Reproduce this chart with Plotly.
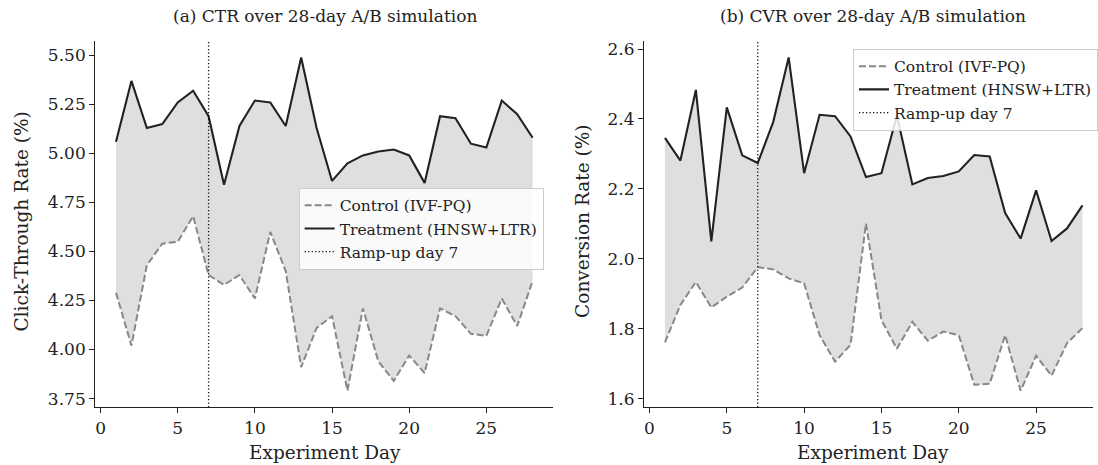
import plotly.graph_objects as go

days = list(range(1, 29))

ctr_control = [4.29, 4.02, 4.43, 4.54, 4.55, 4.68, 4.38, 4.33, 4.38, 4.26,
               4.60, 4.40, 3.91, 4.11, 4.17, 3.79, 4.21, 3.94, 3.84, 3.97,
               3.88, 4.21, 4.17, 4.08, 4.07, 4.26, 4.12, 4.35]
ctr_treatment = [5.06, 5.37, 5.13, 5.15, 5.26, 5.32, 5.19, 4.84, 5.14, 5.27,
                 5.26, 5.14, 5.49, 5.13, 4.86, 4.95, 4.99, 5.01, 5.02, 4.99,
                 4.85, 5.19, 5.18, 5.05, 5.03, 5.27, 5.20, 5.08]

cvr_control = [1.761, 1.868, 1.934, 1.861, 1.892, 1.918, 1.976, 1.970, 1.944, 1.930,
               1.782, 1.706, 1.754, 2.101, 1.825, 1.743, 1.820, 1.766, 1.792, 1.782,
               1.640, 1.643, 1.782, 1.623, 1.723, 1.666, 1.759, 1.802]
cvr_treatment = [2.346, 2.281, 2.483, 2.050, 2.433, 2.296, 2.274, 2.391, 2.576, 2.245,
                 2.412, 2.408, 2.350, 2.234, 2.245, 2.410, 2.213, 2.231, 2.237, 2.250,
                 2.297, 2.293, 2.131, 2.058, 2.196, 2.051, 2.087, 2.153]

RAMP_DAY = 7
titles = ["(a) CTR over 28-day A/B simulation", "(b) CVR over 28-day A/B simulation"]
ylabels = ["Click-Through Rate (%)", "Conversion Rate (%)"]
xlabel = "Experiment Day"
names = ["Control (IVF-PQ)", "Treatment (HNSW+LTR)", "Ramp-up day 7"]

FONT = "DejaVu Serif"
W, H = 1098, 465
FILL = "#dfdfdf"
CTRL_COLOR = "#888888"
TREAT_COLOR = "#222222"
TXT = "#222222"

fig = go.Figure()

panels = [
    dict(ctrl=ctr_control, treat=ctr_treatment, xa="x", ya="y", legend="legend",
         dom=[95.6 / W, 556 / W], xr=[-0.35, 29.35], ytick=0.25, yfmt=".2f",
         title_x=326, ylab_x=22, xlab_x=326),
    dict(ctrl=cvr_control, treat=cvr_treatment, xa="x2", ya="y2", legend="legend2",
         dom=[647 / W, 1.0], xr=[-0.35, 28.68], ytick=0.2, yfmt=".1f",
         title_x=877, ylab_x=585, xlab_x=877),
]

ydom = [1 - 408 / H, 1 - 39 / H]

for i, p in enumerate(panels):
    # fill band between control and treatment
    fig.add_trace(go.Scatter(x=days, y=p["ctrl"], mode="lines", line=dict(width=0),
                             xaxis=p["xa"], yaxis=p["ya"], showlegend=False, hoverinfo="skip"))
    fig.add_trace(go.Scatter(x=days, y=p["treat"], mode="lines", line=dict(width=0),
                             fill="tonexty", fillcolor=FILL,
                             xaxis=p["xa"], yaxis=p["ya"], showlegend=False, hoverinfo="skip"))
    fig.add_trace(go.Scatter(x=days, y=p["ctrl"], mode="lines", name=names[0],
                             line=dict(color=CTRL_COLOR, width=2, dash="7px,3px"),
                             xaxis=p["xa"], yaxis=p["ya"], legend=p["legend"], legendrank=1))
    fig.add_trace(go.Scatter(x=days, y=p["treat"], mode="lines", name=names[1],
                             line=dict(color=TREAT_COLOR, width=2.1),
                             xaxis=p["xa"], yaxis=p["ya"], legend=p["legend"], legendrank=2))
    fig.add_shape(type="line", x0=RAMP_DAY, x1=RAMP_DAY, y0=0, y1=1,
                  xref=p["xa"], yref=f"{p['ya']} domain",
                  line=dict(color="#111111", width=1.3, dash="1.3px,2.2px"),
                  showlegend=True, name=names[2], legend=p["legend"], legendrank=3)

    lo = min(p["ctrl"]); hi = max(p["treat"])
    pad = 0.05 * (hi - lo)
    suffix = "" if i == 0 else "2"
    axis_common = dict(showline=True, linecolor=TXT, linewidth=1.1, mirror=False,
                       ticks="outside", ticklen=5, tickwidth=1.1, tickcolor=TXT,
                       showgrid=False, zeroline=False,
                       tickfont=dict(family=FONT, size=17, color=TXT))
    fig.update_layout(**{
        f"xaxis{suffix}": dict(domain=p["dom"], range=p["xr"], dtick=5, tick0=0,
                               anchor=f"y{suffix}", **axis_common),
        f"yaxis{suffix}": dict(domain=ydom, range=[lo - pad, hi + pad], dtick=p["ytick"],
                               tickformat=p["yfmt"], anchor=f"x{suffix}", **axis_common),
    })
    fig.add_annotation(text=titles[i], x=p["title_x"] / W, y=1 - 14 / H,
                       xref="paper", yref="paper", showarrow=False,
                       xanchor="center", yanchor="middle",
                       font=dict(family=FONT, size=17, color=TXT))
    fig.add_annotation(text=ylabels[i], x=p["ylab_x"] / W, y=1 - 221 / H, textangle=-90,
                       xref="paper", yref="paper", showarrow=False,
                       xanchor="center", yanchor="middle",
                       font=dict(family=FONT, size=18.5, color=TXT))
    fig.add_annotation(text=xlabel, x=p["xlab_x"] / W, y=1 - 453 / H,
                       xref="paper", yref="paper", showarrow=False,
                       xanchor="center", yanchor="middle",
                       font=dict(family=FONT, size=18.5, color=TXT))

legend_style = dict(bgcolor="rgba(255,255,255,0.85)", bordercolor="#cccccc", borderwidth=1,
                    font=dict(family=FONT, size=15.5, color=TXT), traceorder="normal",
                    xanchor="left", yanchor="top", tracegroupgap=0, itemwidth=30)

fig.update_layout(
    width=W, height=H,
    margin=dict(l=0, r=0, t=0, b=0),
    paper_bgcolor="white", plot_bgcolor="white",
    font=dict(family=FONT, color=TXT),
    legend=dict(x=300 / W, y=1 - 187 / H, **legend_style),
    legend2=dict(x=857 / W, y=1 - 47 / H, **legend_style),
)

fig.write_html("out.html", config={"displayModeBar": False},
               post_script="document.body.style.margin='0';")
